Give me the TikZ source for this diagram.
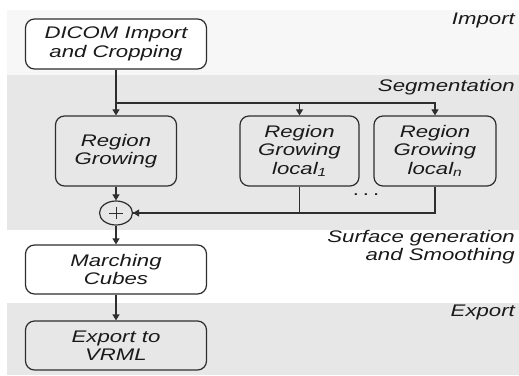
\documentclass[tikz,border=0pt]{standalone}
\usepackage{fontspec}
\setmainfont{Liberation Sans}[FakeStretch=1.32]
\usetikzlibrary{arrows.meta,shapes.geometric}
\definecolor{band}{HTML}{E7E7E7}
\definecolor{topband}{HTML}{F7F7F7}
\definecolor{ln}{HTML}{2E2E2E}
\definecolor{tx}{HTML}{1A1A1A}
\tikzset{
  box/.style={draw=ln, line width=1.2pt, rounded corners=9pt, align=center, inner sep=0pt,
    font=\fontsize{16.8}{18.3}\selectfont\itshape, text=tx},
  lbl/.style={anchor=east, align=right, inner sep=0pt, font=\fontsize{16.8}{18.3}\selectfont\itshape, text=tx},
  conn/.style={draw=ln, line width=1.2pt},
  arr/.style={conn, -{Triangle[length=6pt,width=7pt]}}
}
\begin{document}
\begin{tikzpicture}[x=1pt,y=1pt]
\useasboundingbox (0,0) rectangle (519,375);
% bands
\fill[topband] (7,300) rectangle (519,365);
\fill[band] (7,145) rectangle (519,300);
\fill[band] (7,0) rectangle (519,72);
% labels
\node[lbl] (limp) at (515,355) {Import};
\node[lbl] (lseg) at (515,288) {Segmentation};
\node[lbl] (lsur) at (515,128) {Surface generation\\and Smoothing};
\node[lbl] (lexp) at (515,63) {Export};
% boxes
\node[box, fill=white, minimum width=181pt, minimum height=50pt] (dicom) at (116,331) {DICOM Import\\and Cropping};
\node[box, minimum width=121pt, minimum height=70pt] (rg) at (116,224) {Region\\Growing};
\node[box, minimum width=119pt, minimum height=70pt] (rgl1) at (299.5,224) {Region\\Growing\\local\textsubscript{1}};
\node[box, minimum width=122pt, minimum height=70pt] (rgln) at (435,224) {Region\\Growing\\local\textsubscript{n}};
\node[draw=ln, line width=1.2pt, ellipse, minimum width=33pt, minimum height=24pt, inner sep=0pt,
  path picture={\draw[ln, line width=0.8pt] ([xshift=-7pt]path picture bounding box.center) -- ([xshift=7pt]path picture bounding box.center)
   ([yshift=-6pt]path picture bounding box.center) -- ([yshift=6pt]path picture bounding box.center);}] (plus) at (116,162) {};
\node[font=\fontsize{16.8}{18.3}\selectfont, text=tx] (dots) at (366,180) {.\hspace{4pt}.\hspace{4pt}.};
\node[box, fill=white, minimum width=181pt, minimum height=49pt] (mc) at (116,105.5) {Marching\\Cubes};
\node[box, minimum width=181pt, minimum height=49pt] (exp) at (116,29.5) {Export to\\VRML};
% connectors
\coordinate (split) at (116,272);
\draw[arr] (dicom.south) -- (rg.north);
\draw[arr] (split) -| (rgl1.north);
\draw[arr] (split) -| (rgln.north);
\draw[arr] (rg.south) -- (plus.north);
\draw[conn] (rgl1.south) |- (plus.east);
\draw[arr] (rgln.south) |- (plus.east);
\draw[arr] (plus.south) -- (mc.north);
\draw[arr] (mc.south) -- (exp.north);
\end{tikzpicture}
\end{document}
